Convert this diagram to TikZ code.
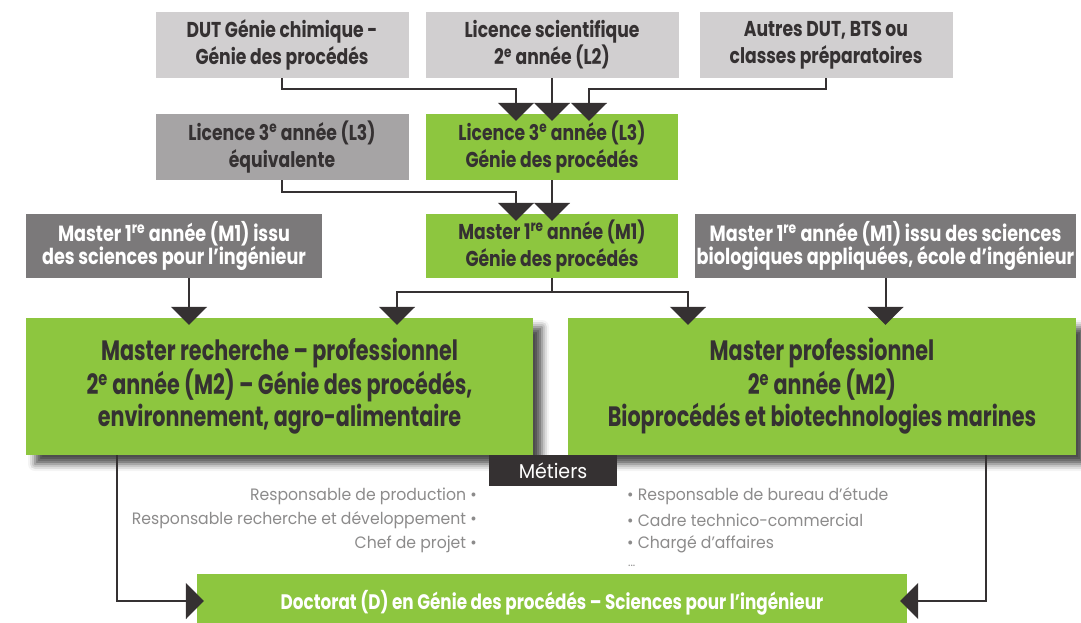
\documentclass[tikz,border=0pt]{standalone}
\usepackage{fontspec}
\usetikzlibrary{arrows.meta,shadows.blur}
\newfontfamily\cond[FakeStretch=0.80]{Poppins}
\newfontfamily\condb[FakeStretch=0.74]{Poppins}
\newfontfamily\lite[FakeStretch=0.95]{Poppins}
\definecolor{grn}{HTML}{8DC63F}
\definecolor{lgr}{HTML}{D1CFD0}
\definecolor{mgr}{HTML}{A6A4A5}
\definecolor{dgr}{HTML}{7B797A}
\definecolor{ink}{HTML}{353132}
\definecolor{met}{HTML}{8C8B8B}
\tikzset{
  box/.style={inner sep=0pt, align=center, text=ink, font={\cond\bfseries\fontsize{21.5}{27}\selectfont}},
  topbox/.style={box, fill=lgr, minimum width=253pt, minimum height=66pt},
  eqbox/.style={box, fill=mgr, minimum width=253pt, minimum height=66pt},
  grnbox/.style={box, fill=grn, minimum width=252pt, minimum height=65pt},
  sidebox/.style={box, fill=dgr, text=white, minimum height=64pt, font={\cond\bfseries\fontsize{22}{23}\selectfont}},
  bigbox/.style={box, fill=grn, minimum height=137pt, font={\condb\bfseries\fontsize{28}{32}\selectfont},
     blur shadow={shadow xshift=9pt, shadow yshift=-9pt, shadow blur radius=7pt, shadow opacity=70}},
  arr/.style={draw=ink, line width=2pt, -{Triangle[width=36pt,length=18pt]}, shorten >=-7pt},
  metitem/.style={inner sep=0pt, text=met, font={\lite\fontsize{16.5}{20}\selectfont}},
}
\begin{document}
\begin{tikzpicture}[x=1pt,y=-1pt]
\useasboundingbox (0,0) rectangle (1081,623);
% top row
\node[topbox] (dut) at (282,45) {DUT Génie chimique -\\Génie des procédés};
\node[topbox] (l2) at (552,45) {Licence scientifique\\2\textsuperscript{e} année (L2)};
\node[topbox] (autres) at (826,45) {Autres DUT, BTS ou\\classes préparatoires};
% second row
\node[eqbox] (l3eq) at (282,147) {Licence 3\textsuperscript{e} année (L3)\\équivalente};
\node[grnbox, minimum height=66pt] (l3) at (552,147) {Licence 3\textsuperscript{e} année (L3)\\Génie des procédés};
% third row
\node[sidebox, minimum width=296pt] (m1l) at (174,246) {Master 1\textsuperscript{re} année (M1) issu\\des sciences pour l’ingénieur};
\node[grnbox, minimum height=64pt] (m1c) at (552,246) {Master 1\textsuperscript{re} année (M1)\\Génie des procédés};
\node[sidebox, minimum width=381pt] (m1r) at (885.5,246) {Master 1\textsuperscript{re} année (M1) issu des sciences\\biologiques appliquées, école d’ingénieur};
% big boxes
\node[bigbox, minimum width=507pt] (mrl) at (279.5,386.5) {Master recherche – professionnel\\2\textsuperscript{e} année (M2) – Génie des procédés,\\environnement, agro-alimentaire};
\node[bigbox, minimum width=508pt] (mrr) at (822,386.5) {Master professionnel\\2\textsuperscript{e} année (M2)\\Bioprocédés et biotechnologies marines};
% metiers
\node[fill=ink, text=white, minimum width=128pt, minimum height=31pt, inner sep=0pt, font={\lite\fontsize{20}{22}\selectfont}] (metiers) at (553,470.5) {Métiers};
\node[metitem, anchor=east] (ml1) at (477,496) {Responsable de production \textbullet};
\node[metitem, anchor=east] (ml2) at (477,520) {Responsable recherche et développement \textbullet};
\node[metitem, anchor=east] (ml3) at (477,544) {Chef de projet \textbullet};
\node[metitem, anchor=west] (mr1) at (627,496) {\textbullet{} Responsable de bureau d’étude};
\node[metitem, anchor=west] (mr2) at (627,520) {\textbullet{} Cadre technico-commercial};
\node[metitem, anchor=west] (mr3) at (627,544) {\textbullet{} Chargé d’affaires};
\node[metitem, anchor=base west, font={\lite\fontsize{12}{14}\selectfont}] (mr4) at (628,566) {...};
% doctorat
\node[box, fill=grn, text=white, minimum width=710pt, minimum height=58pt, font={\cond\bfseries\fontsize{21}{24}\selectfont}] (doc) at (552,603) {Doctorat (D) en Génie des procédés – Sciences pour l’ingénieur};
% connectors
\draw[arr] (dut.south) -- ++(0,11) -| ([xshift=-36pt]l3.north);
\draw[arr] (l2.south) -- (l3.north);
\draw[arr] (autres.south) -- ++(0,11) -| ([xshift=37pt]l3.north);
\draw[arr] (l3eq.south) -- ++(0,12) -| ([xshift=-36pt]m1c.north);
\draw[arr] (l3.south) -- (m1c.north);
\draw[arr] (m1c.south) -- ++(0,14) -| ([xshift=117.5pt]mrl.north);
\draw[arr] (m1c.south) -- ++(0,14) -| ([xshift=-134pt]mrr.north);
\draw[arr] ([xshift=15pt]m1l.south) -- ([xshift=15pt]m1l.south |- mrl.north);
\draw[arr] (m1r.south) -- (m1r.south |- mrr.north);
\draw[arr] ([xshift=-162.5pt]mrl.south) |- ([yshift=2pt]doc.west);
\draw[arr] ([xshift=164pt]mrr.south) |- ([yshift=2pt]doc.east);
\end{tikzpicture}
\end{document}
